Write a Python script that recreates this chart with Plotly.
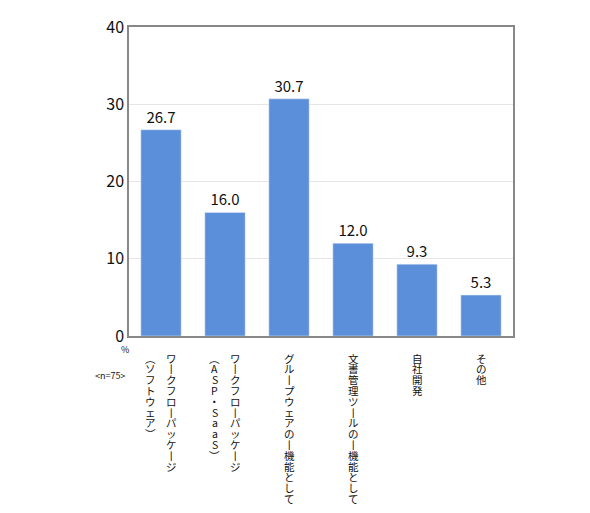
import plotly.graph_objects as go

categories = ["ワークフローパッケージ\n(ソフトウェア)", "ワークフローパッケージ\n(ASP・SaaS)",
              "グループウェアの一機能として", "文書管理ツールの一機能として", "自社開発", "その他"]
values = [26.7, 16.0, 30.7, 12.0, 9.3, 5.3]
value_labels = ["26.7", "16.0", "30.7", "12.0", "9.3", "5.3"]
y_ticks = [0, 10, 20, 30, 40]

FONT = "Noto Sans CJK JP"
vmap = {"ー": "丨", "(": "︵", ")": "︶", "一": "丨"}

x = list(range(len(categories)))
fig = go.Figure(go.Bar(x=x, y=values, marker_color="#5B8FD9", width=0.63,
                       text=value_labels, textposition="outside", cliponaxis=False,
                       textfont=dict(size=15, color="#111", family=FONT)))

ann = []
STEP = 10.8
for i, c in enumerate(categories):
    cols = c.split("\n")
    n = len(cols)
    for j, col in enumerate(cols):
        off = (n - 1) / 2 * 0.32 - j * 0.32
        for k, ch in enumerate(col):
            ann.append(dict(x=i + off, y=0, yref="paper", xref="x", yanchor="middle",
                            yshift=-(22 + k * STEP), text=vmap.get(ch, ch), showarrow=False,
                            font=dict(size=10.5, color="#111", family=FONT)))
ann.append(dict(x=0, xref="paper", y=0, yref="paper", xanchor="right", yanchor="middle",
                yshift=-13, xshift=2, text="%", showarrow=False, font=dict(size=9, family=FONT, color="#111")))
ann.append(dict(x=0, xref="paper", y=0, yref="paper", xanchor="right", yanchor="middle",
                yshift=-39, xshift=-2, text="&lt;n=75&gt;", showarrow=False,
                font=dict(size=9, family=FONT, color="#111")))
fig.update_layout(annotations=ann)

fig.update_layout(
    width=590, height=513, margin=dict(l=121, r=85, t=19, b=185, autoexpand=False),
    plot_bgcolor="white", paper_bgcolor="white", showlegend=False, bargap=0.36,
    xaxis=dict(range=[-0.5, 5.5], showticklabels=False, showline=True, linecolor="#888",
               linewidth=1.5, mirror=True, showgrid=False, zeroline=False, ticks="", automargin=False),
    yaxis=dict(range=[0, 40], tickvals=y_ticks, showline=True, linecolor="#888", linewidth=1.5,
               mirror=True, gridcolor="#e6e6e6", zeroline=False, ticks="", automargin=False,
               tickfont=dict(size=16, family=FONT, color="#111")),
)
fig.write_html("out.html")
